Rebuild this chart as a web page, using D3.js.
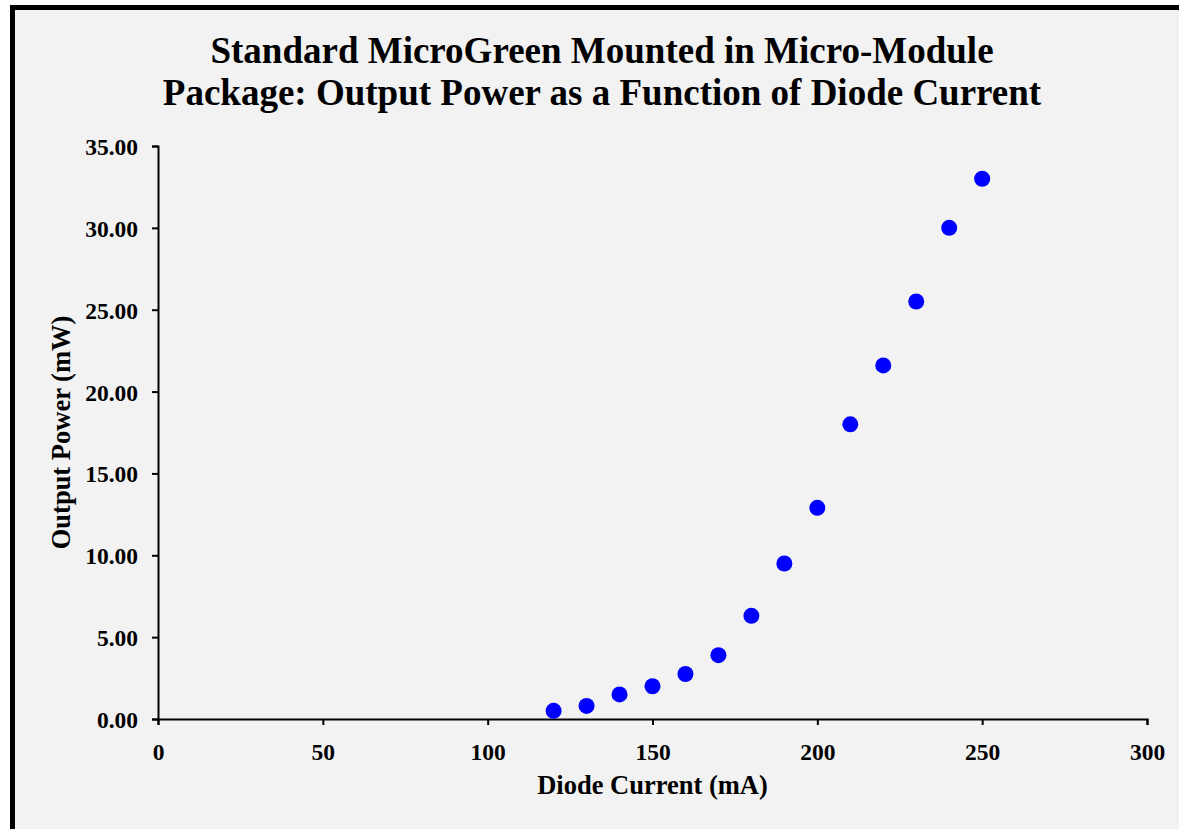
<!DOCTYPE html>
<html>
<head>
<meta charset="utf-8">
<script src="https://cdn.jsdelivr.net/npm/d3@7"></script>
<style>
  html, body { margin: 0; padding: 0; background: #ffffff; }
  svg { display: block; font-family: "Liberation Serif", "Times New Roman", serif; }
</style>
</head>
<body>
<script>
// diode current (mA) and measured output power (mW)
const current = [120, 130, 140, 150, 160, 170, 180, 190, 200, 210, 220, 230, 240, 250];
const power = [0.5, 0.8, 1.5, 2.0, 2.75, 3.9, 6.3, 9.5, 12.9, 18.0, 21.6, 25.5, 30.0, 33.0];
const xTicks = [0, 50, 100, 150, 200, 250, 300];
const yTicks = [0, 5, 10, 15, 20, 25, 30, 35];
const titleLines = ["Standard MicroGreen Mounted in Micro-Module",
                    "Package: Output Power as a Function of Diode Current"];

const width = 1179, height = 829;
const plotLeft = 158, plotRight = 1147, plotTop = 146, plotBottom = 719;

const svg = d3.select("body").append("svg")
  .attr("width", width)
  .attr("height", height);

// chart frame
svg.append("rect")
  .attr("x", 12.5).attr("y", 7.5)
  .attr("width", width + 20).attr("height", height + 20)
  .attr("fill", "#f2f2f2")
  .attr("stroke", "#000")
  .attr("stroke-width", 5);

svg.append("g")
  .selectAll("text")
  .data(titleLines)
  .join("text")
    .attr("x", 602)
    .attr("y", (d, i) => 63 + i * 42)
    .attr("text-anchor", "middle")
    .attr("font-size", 37)
    .attr("font-weight", "bold")
    .text(d => d);

const x = d3.scaleLinear().domain([0, 300]).range([plotLeft, plotRight]);
const y = d3.scaleLinear().domain([0, 35]).range([plotBottom, plotTop]);

const xAxis = svg.append("g")
  .attr("transform", `translate(0,${plotBottom})`)
  .call(d3.axisBottom(x).tickValues(xTicks).tickSize(6).tickPadding(18).tickFormat(d3.format("d")));

const yAxis = svg.append("g")
  .attr("transform", `translate(${plotLeft},0)`)
  .call(d3.axisLeft(y).tickValues(yTicks).tickSize(6).tickPadding(14).tickFormat(d3.format(".2f")));

[xAxis, yAxis].forEach(g => {
  g.select(".domain").attr("stroke", "#000").attr("stroke-width", 2);
  g.selectAll(".tick line").attr("stroke", "#000").attr("stroke-width", 2);
  g.selectAll(".tick text")
    .attr("fill", "#000")
    .attr("font-size", 23.5)
    .attr("font-weight", "bold")
    .attr("font-family", "Liberation Serif, serif");
});
yAxis.selectAll(".tick text").attr("dy", "0.36em");

svg.append("text")
  .attr("x", (plotLeft + plotRight) / 2)
  .attr("y", 794)
  .attr("text-anchor", "middle")
  .attr("font-size", 26.5)
  .attr("font-weight", "bold")
  .text("Diode Current (mA)");

svg.append("text")
  .attr("transform", `translate(70,${(plotTop + plotBottom) / 2}) rotate(-90)`)
  .attr("text-anchor", "middle")
  .attr("font-size", 26.5)
  .attr("font-weight", "bold")
  .text("Output Power (mW)");

svg.append("g")
  .selectAll("circle")
  .data(current.map((c, i) => ({c, p: power[i]})))
  .join("circle")
    .attr("cx", d => x(d.c))
    .attr("cy", d => y(d.p))
    .attr("r", 8)
    .attr("fill", "#0000ff");
</script>
</body>
</html>
